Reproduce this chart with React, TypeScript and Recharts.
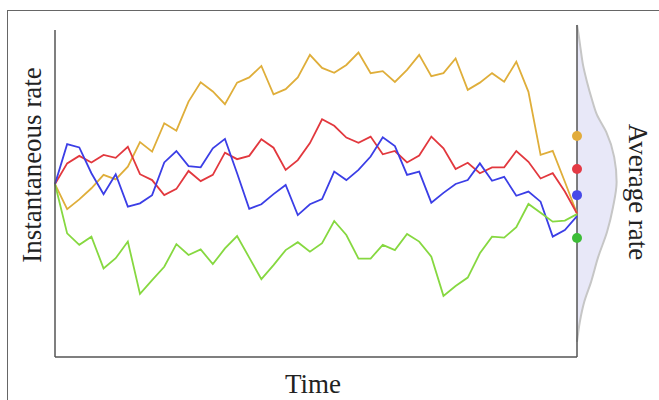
import React from 'react';
import { ComposedChart, AreaChart, Area, Line, Scatter, XAxis, YAxis } from 'recharts';

// instantaneous rate of each run, one value per time step
const goldRates = [52.9, 45.2, 48.2, 51.6, 55.7, 54.3, 58.2, 65.7, 62.8, 71.5, 69.2, 78.1, 84.0, 81.2, 77.3, 83.9, 85.5, 89.0, 80.3, 81.9, 85.5, 92.4, 88.4, 86.9, 89.3, 93.1, 86.8, 87.4, 84.1, 87.8, 92.4, 85.9, 86.8, 91.3, 81.7, 83.9, 86.8, 84.2, 90.3, 81.1, 61.8, 63.0, 53.6, 43.9];
const redRates = [52.9, 59.2, 61.5, 59.5, 61.8, 60.9, 64.3, 55.9, 54.1, 49.5, 51.4, 56.9, 53.8, 55.7, 62.5, 60.5, 61.5, 66.6, 64.0, 57.2, 60.2, 65.4, 72.7, 70.7, 67.1, 65.5, 67.4, 62.0, 63.0, 59.5, 61.6, 67.4, 63.8, 57.5, 59.4, 56.2, 58.0, 58.0, 63.0, 59.7, 54.6, 56.2, 50.6, 43.9];
const blueRates = [52.9, 65.1, 64.1, 56.2, 49.8, 55.9, 46.0, 47.0, 49.5, 59.5, 63.0, 58.4, 58.0, 63.8, 66.7, 56.2, 45.3, 46.7, 49.8, 52.6, 43.4, 46.7, 48.3, 56.7, 54.1, 57.2, 61.3, 67.2, 64.5, 55.7, 56.7, 47.2, 50.2, 52.9, 54.1, 59.2, 53.9, 55.1, 49.3, 50.6, 47.5, 36.8, 38.8, 43.1];
const greenRates = [52.9, 37.8, 34.3, 36.8, 27.1, 30.2, 35.3, 19.3, 23.5, 27.6, 34.5, 31.2, 32.9, 28.4, 33.2, 37.0, 30.4, 23.8, 28.1, 32.7, 35.1, 32.2, 34.8, 41.6, 37.3, 30.1, 30.1, 34.3, 32.7, 37.6, 35.3, 30.7, 18.7, 21.7, 24.3, 31.7, 36.8, 36.5, 39.7, 46.8, 44.1, 41.4, 41.7, 43.7];

// average rate of each run
const averageRates = [67.6, 57.5, 49.5, 36.4];

// distribution of the average rate
const densityLevels = [0, 2.1, 7.3, 12.2, 17.4, 22.6, 27.5, 32.7, 40.4, 48.0, 55.7, 63.3, 70.9, 78.6, 84.7, 90.8, 96.9];
const densityValues = [0, 0.03, 0.09, 0.15, 0.25, 0.37, 0.5, 0.73, 0.93, 0.99, 0.9, 0.75, 0.53, 0.35, 0.18, 0.07, 0];

const LINE_COLORS = ['#dfae3a', '#e2383e', '#3b3ee6', '#86d840'];
const DOT_COLORS = ['#e2ac3c', '#e43a45', '#474ae8', '#3dbd37'];
const AXIS = '#555';
const FONT = "'Liberation Serif', 'DejaVu Serif', serif";

const runs = goldRates.map((v, i) => ({
  t: i,
  gold: v,
  red: redRates[i],
  blue: blueRates[i],
  green: greenRates[i],
}));
const lastT = runs.length - 1;
const density = densityLevels.map((r, i) => ({ rate: r, density: densityValues[i] }));

const dotShape = (p: any) => <circle cx={p.cx} cy={p.cy} r={5} fill={p.fill} />;

export default function App() {
  return (
    <div style={{ position: 'absolute', left: 0, top: 0, width: 659, height: 400, overflow: 'hidden', background: '#fff' }}>
      <div style={{ position: 'absolute', left: 7, top: 10, width: 700, height: 450, borderTop: '1.5px solid #666', borderLeft: '1.5px solid #666' }} />

      <div style={{ position: 'absolute', left: 572, top: 0 }}>
        <AreaChart width={87} height={400} data={density} layout="vertical" margin={{ top: 25, right: 42, bottom: 43, left: 4 }}>
          <XAxis type="number" domain={[0, 1]} hide />
          <Area type="monotone" dataKey="density" fill="#e8e8f8" fillOpacity={1} stroke="#c6c6c6" strokeWidth={2} isAnimationActive={false} />
          <YAxis type="number" dataKey="rate" domain={[0, 101.5]} width={1} tick={false} tickLine={false} axisLine={{ stroke: AXIS, strokeWidth: 1.5 }} />
        </AreaChart>
      </div>

      <div style={{ position: 'absolute', left: 0, top: 0 }}>
        <ComposedChart width={659} height={400} data={runs} margin={{ top: 30, right: 82, bottom: 42, left: 54 }}>
          <XAxis type="number" dataKey="t" domain={[0, lastT]} height={1} tick={false} tickLine={false} axisLine={{ stroke: AXIS, strokeWidth: 1.5 }} />
          <YAxis type="number" domain={[0, 100]} width={1} tick={false} tickLine={false} axisLine={{ stroke: AXIS, strokeWidth: 1.5 }} />
          {['gold', 'red', 'blue', 'green'].map((k, i) => (
            <Line key={k} dataKey={k} stroke={LINE_COLORS[i]} strokeWidth={1.8} dot={false} type="linear" isAnimationActive={false} />
          ))}
          {averageRates.map((r, i) => (
            <Scatter key={i} data={[{ t: lastT, rate: r }]} dataKey="rate" fill={DOT_COLORS[i]} shape={dotShape} isAnimationActive={false} />
          ))}
          <text x={41} y={165} transform="rotate(-90 41 165)" textAnchor="middle" fontFamily={FONT} fontSize={27} fill="#222">Instantaneous rate</text>
          <text x={629} y={192} transform="rotate(90 629 192)" textAnchor="middle" fontFamily={FONT} fontSize={27} fill="#222">Average rate</text>
          <text x={313} y={393} textAnchor="middle" fontFamily={FONT} fontSize={27} fill="#222">Time</text>
        </ComposedChart>
      </div>
    </div>
  );
}
